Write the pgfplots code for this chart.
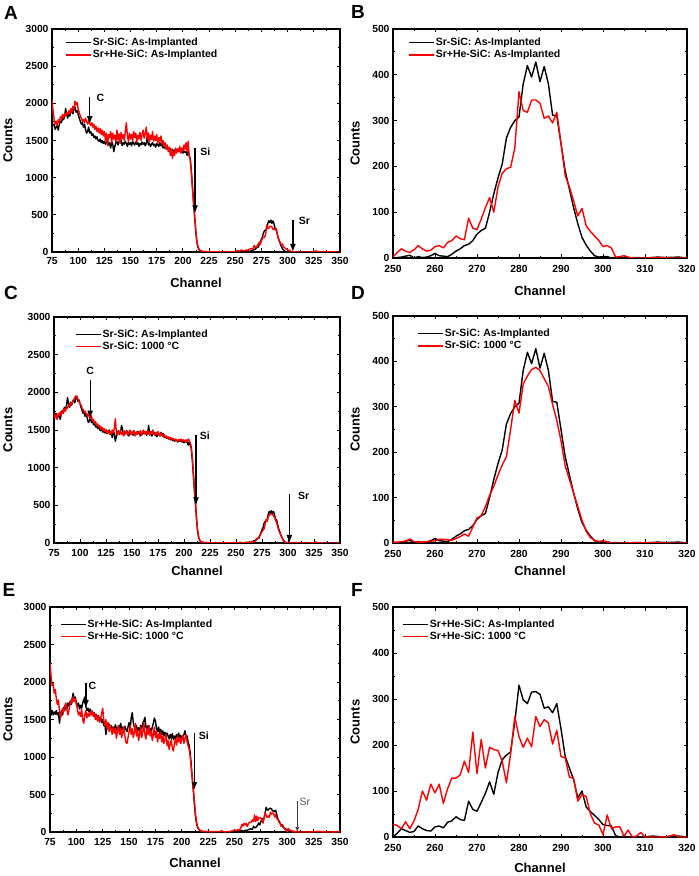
\documentclass[border=0pt]{standalone}
\usepackage{fontspec}
\setmainfont{Liberation Sans}
\usepackage{pgfplots}
\usepackage{pgfplotstable}
\pgfplotsset{compat=1.18}
\usetikzlibrary{arrows.meta}

% ---------- Row 1 / Row 2 : Sr-SiC As-Implanted ----------
\pgfplotstableread[row sep=\\]{x y\\
75 1750\\76 1700\\77 1720\\78 1650\\79 1680\\80 1700\\81 1640\\82 1720\\83 1760\\84 1740\\85 1800\\86 1780\\87 1820\\88 1930\\89 1850\\90 1800\\91 1870\\92 1830\\93 1880\\94 1900\\95 1860\\96 1920\\97 1950\\98 1880\\99 1900\\100 1850\\101 1800\\102 1760\\103 1720\\104 1740\\105 1680\\106 1720\\107 1650\\108 1600\\109 1620\\110 1680\\111 1600\\112 1620\\113 1570\\114 1590\\115 1540\\116 1560\\117 1520\\118 1550\\119 1500\\120 1490\\121 1520\\122 1470\\123 1500\\124 1460\\125 1490\\126 1450\\127 1480\\128 1500\\129 1440\\130 1470\\131 1400\\132 1480\\133 1450\\134 1350\\135 1420\\136 1470\\137 1490\\138 1440\\139 1480\\140 1560\\141 1500\\142 1430\\143 1470\\144 1450\\145 1490\\146 1460\\147 1420\\148 1480\\149 1450\\150 1470\\151 1430\\152 1490\\153 1460\\154 1440\\155 1480\\156 1450\\157 1470\\158 1420\\159 1460\\160 1440\\161 1480\\162 1450\\163 1470\\164 1430\\165 1460\\166 1560\\167 1440\\168 1460\\169 1420\\170 1450\\171 1470\\172 1430\\173 1450\\174 1410\\175 1460\\176 1440\\177 1420\\178 1470\\179 1430\\180 1450\\181 1400\\182 1420\\183 1390\\184 1410\\185 1380\\186 1400\\187 1370\\188 1390\\189 1360\\190 1380\\191 1350\\192 1370\\193 1360\\194 1340\\195 1370\\196 1350\\197 1360\\198 1340\\199 1350\\200 1330\\201 1360\\202 1340\\203 1350\\204 1300\\205 1340\\206 1300\\207 1250\\208 1100\\209 900\\210 700\\211 520\\212 330\\213 170\\214 80\\215 40\\216 20\\218 10\\220 5\\225 3\\230 0\\240 2\\249 0\\
}\SrAIfull

\pgfplotstableread[row sep=\\]{x y\\
250 0\\251 1\\252 2\\253 4\\254 6\\255 0\\256 3\\257 1\\258 2\\259 5\\260 10\\261 5\\262 4\\263 3\\264 8\\265 15\\266 20\\267 27\\268 30\\269 38\\270 52\\271 60\\272 65\\273 100\\274 140\\275 175\\276 205\\277 262\\278 285\\279 300\\280 308\\281 380\\282 420\\283 395\\284 428\\285 385\\286 418\\287 380\\288 312\\289 310\\290 250\\291 190\\292 150\\293 110\\294 75\\295 45\\296 28\\297 15\\298 5\\299 2\\300 3\\301 3\\302 0\\303 1\\305 0\\308 1\\310 0\\313 2\\315 1\\318 2\\320 0\\323 0\\327 3\\330 0\\340 1\\350 0\\
}\SrAIpeak

% ---------- Row 1 : Sr+He-SiC As-Implanted ----------
\pgfplotstableread[row sep=\\]{x y\\
75 2050\\76 1900\\77 1780\\78 1720\\79 1760\\80 1700\\81 1780\\82 1740\\83 1820\\84 1790\\85 1850\\86 1800\\87 1860\\88 1830\\89 1880\\90 1850\\91 1900\\92 1860\\93 1930\\94 1880\\95 1960\\96 1920\\97 2030\\98 1980\\99 2010\\100 1920\\101 1880\\102 1830\\103 1800\\104 1760\\105 1780\\106 1740\\107 1800\\108 1760\\109 1720\\110 1770\\111 1730\\112 1700\\113 1740\\114 1680\\115 1720\\116 1650\\117 1690\\118 1620\\119 1670\\120 1600\\121 1660\\122 1580\\123 1640\\124 1560\\125 1620\\126 1500\\127 1600\\128 1430\\129 1580\\130 1540\\131 1620\\132 1470\\133 1600\\134 1520\\135 1570\\136 1480\\137 1640\\138 1510\\139 1590\\140 1460\\141 1610\\142 1530\\143 1580\\144 1500\\145 1620\\146 1740\\147 1560\\148 1490\\149 1600\\150 1520\\151 1580\\152 1490\\153 1620\\154 1540\\155 1600\\156 1480\\157 1570\\158 1520\\159 1610\\160 1500\\161 1580\\162 1640\\163 1530\\164 1590\\165 1680\\166 1520\\167 1600\\168 1480\\169 1570\\170 1510\\171 1620\\172 1490\\173 1560\\174 1500\\175 1580\\176 1460\\177 1540\\178 1490\\179 1560\\180 1450\\181 1500\\182 1420\\183 1470\\184 1390\\185 1440\\186 1350\\187 1410\\188 1300\\189 1380\\190 1260\\191 1350\\192 1300\\193 1400\\194 1330\\195 1390\\196 1350\\197 1420\\198 1330\\199 1400\\200 1360\\201 1440\\202 1380\\203 1470\\204 1350\\205 1490\\206 1300\\207 1240\\208 1080\\209 880\\210 690\\211 520\\212 340\\213 190\\214 100\\215 50\\216 25\\218 12\\220 6\\225 3\\230 2\\240 0\\249 3\\
}\SrHeAIfullA

\pgfplotstableread[row sep=\\]{x y\\
250 2\\251 12\\252 20\\253 15\\254 12\\255 18\\256 27\\257 20\\258 15\\259 17\\260 25\\261 27\\262 22\\263 34\\264 38\\265 48\\266 42\\267 40\\268 87\\269 65\\270 62\\271 85\\272 110\\273 132\\274 100\\275 155\\276 185\\277 195\\278 198\\279 240\\280 363\\281 322\\282 318\\283 345\\284 345\\285 338\\286 305\\287 310\\288 295\\289 318\\290 250\\291 180\\292 155\\293 125\\294 92\\295 108\\296 70\\297 58\\298 48\\299 38\\300 25\\301 27\\302 22\\303 2\\304 3\\305 5\\306 2\\307 0\\310 0\\313 1\\316 0\\320 0\\324 2\\327 15\\329 3\\333 0\\340 2\\350 0\\
}\SrHeAIpeakB

% ---------- Row 2 : Sr-SiC 1000 C ----------
\pgfplotstableread[row sep=\\]{x y\\
75 1720\\76 1660\\77 1700\\78 1640\\79 1720\\80 1690\\81 1740\\82 1700\\83 1760\\84 1720\\85 1780\\86 1750\\87 1800\\88 1790\\89 1830\\90 1810\\91 1860\\92 1840\\93 1880\\94 1900\\95 1930\\96 1950\\97 1940\\98 1910\\99 1880\\100 1850\\101 1830\\102 1790\\103 1770\\104 1730\\105 1750\\106 1710\\107 1690\\108 1720\\109 1670\\110 1650\\111 1690\\112 1620\\113 1640\\114 1590\\115 1610\\116 1560\\117 1580\\118 1540\\119 1560\\120 1510\\121 1540\\122 1490\\123 1520\\124 1480\\125 1510\\126 1460\\127 1490\\128 1450\\129 1480\\130 1440\\131 1500\\132 1460\\133 1520\\134 1650\\135 1460\\136 1430\\137 1480\\138 1450\\139 1500\\140 1440\\141 1470\\142 1420\\143 1490\\144 1450\\145 1480\\146 1430\\147 1470\\148 1500\\149 1440\\150 1480\\151 1450\\152 1490\\153 1420\\154 1470\\155 1440\\156 1480\\157 1450\\158 1490\\159 1430\\160 1470\\161 1500\\162 1450\\163 1480\\164 1440\\165 1490\\166 1460\\167 1430\\168 1480\\169 1450\\170 1500\\171 1460\\172 1430\\173 1470\\174 1440\\175 1480\\176 1450\\177 1420\\178 1460\\179 1430\\180 1410\\181 1440\\182 1400\\183 1420\\184 1390\\185 1410\\186 1380\\187 1400\\188 1370\\189 1390\\190 1380\\191 1360\\192 1380\\193 1370\\194 1350\\195 1370\\196 1360\\197 1380\\198 1350\\199 1370\\200 1360\\201 1340\\202 1370\\203 1350\\204 1380\\205 1360\\206 1330\\207 1280\\208 1140\\209 940\\210 730\\211 540\\212 340\\213 180\\214 85\\215 40\\216 20\\218 10\\220 5\\225 3\\230 0\\240 2\\249 2\\
}\SrKfull

\pgfplotstableread[row sep=\\]{x y\\
250 2\\251 2\\252 3\\253 4\\254 9\\255 3\\256 2\\257 2\\258 3\\259 4\\260 5\\261 8\\262 8\\263 7\\264 6\\265 10\\266 14\\267 20\\268 15\\269 35\\270 55\\271 60\\272 80\\273 105\\274 125\\275 150\\276 172\\277 190\\278 250\\279 314\\280 286\\281 350\\282 368\\283 382\\284 387\\285 380\\286 362\\287 345\\288 305\\289 270\\290 225\\291 170\\292 140\\293 110\\294 80\\295 50\\296 26\\297 12\\298 6\\299 3\\300 5\\301 2\\302 0\\305 0\\310 1\\315 0\\320 0\\324 2\\327 12\\329 2\\335 0\\350 0\\
}\SrKpeak

% ---------- Row 3 : Sr+He-SiC As-Implanted ----------
\pgfplotstableread[row sep=\\]{x y\\
75 1750\\76 1560\\77 1620\\78 1560\\79 1600\\80 1570\\81 1620\\82 1560\\83 1590\\84 1450\\85 1580\\86 1620\\87 1560\\88 1660\\89 1620\\90 1700\\91 1640\\92 1720\\93 1680\\94 1740\\95 1700\\96 1780\\97 1850\\98 1760\\99 1800\\100 1720\\101 1680\\102 1720\\103 1640\\104 1690\\105 1650\\106 1720\\107 1760\\108 1800\\109 1680\\110 1620\\111 1650\\112 1600\\113 1640\\114 1580\\115 1600\\116 1560\\117 1590\\118 1540\\119 1570\\120 1520\\121 1550\\122 1480\\123 1530\\124 1460\\125 1500\\126 1420\\127 1450\\128 1300\\129 1400\\130 1380\\131 1440\\132 1370\\133 1420\\134 1350\\135 1400\\136 1360\\137 1430\\138 1380\\139 1350\\140 1420\\141 1380\\142 1450\\143 1360\\144 1400\\145 1330\\146 1410\\147 1370\\148 1340\\149 1400\\150 1460\\151 1380\\152 1520\\153 1590\\154 1450\\155 1400\\156 1360\\157 1420\\158 1340\\159 1390\\160 1350\\161 1420\\162 1380\\163 1450\\164 1480\\165 1530\\166 1400\\167 1360\\168 1420\\169 1340\\170 1380\\171 1330\\172 1400\\173 1450\\174 1520\\175 1480\\176 1380\\177 1340\\178 1400\\179 1320\\180 1370\\181 1300\\182 1350\\183 1280\\184 1330\\185 1260\\186 1320\\187 1280\\188 1240\\189 1300\\190 1250\\191 1310\\192 1230\\193 1280\\194 1240\\195 1300\\196 1260\\197 1320\\198 1250\\199 1290\\200 1240\\201 1280\\202 1300\\203 1350\\204 1260\\205 1280\\206 1200\\207 1150\\208 1050\\209 880\\210 700\\211 540\\212 360\\213 200\\214 110\\215 60\\216 35\\217 20\\218 12\\220 8\\222 5\\225 3\\230 2\\235 0\\240 3\\245 0\\249 2\\
}\SrHeAIfullE

\pgfplotstableread[row sep=\\]{x y\\
250 0\\251 8\\252 18\\253 14\\254 10\\255 12\\256 24\\257 18\\258 14\\259 13\\260 22\\261 24\\262 20\\263 32\\264 35\\265 44\\266 38\\267 36\\268 78\\269 60\\270 56\\271 75\\272 95\\273 120\\274 93\\275 140\\276 168\\277 178\\278 185\\279 250\\280 330\\281 298\\282 290\\283 315\\284 316\\285 310\\286 280\\287 283\\288 270\\289 290\\290 235\\291 175\\292 150\\293 125\\294 85\\295 100\\296 65\\297 55\\298 47\\299 38\\300 27\\301 25\\302 24\\303 3\\304 0\\305 2\\306 0\\309 0\\312 2\\314 0\\318 2\\320 0\\325 0\\330 2\\340 0\\350 0\\
}\SrHeAIpeakF

% ---------- Row 3 : Sr+He-SiC 1000 C ----------
\pgfplotstableread[row sep=\\]{x y\\
75 2250\\76 2080\\77 1950\\78 1980\\79 1850\\80 1900\\81 1780\\82 1700\\83 1760\\84 1620\\85 1520\\86 1580\\87 1650\\88 1600\\89 1680\\90 1720\\91 1640\\92 1560\\93 1620\\94 1700\\95 1760\\96 1720\\97 1800\\98 1740\\99 1780\\100 1700\\101 1640\\102 1560\\103 1600\\104 1540\\105 1640\\106 1500\\107 1450\\108 1560\\109 1620\\110 1520\\111 1580\\112 1540\\113 1600\\114 1560\\115 1620\\116 1540\\117 1580\\118 1500\\119 1560\\120 1480\\121 1540\\122 1460\\123 1520\\124 1580\\125 1650\\126 1480\\127 1420\\128 1500\\129 1380\\130 1460\\131 1340\\132 1420\\133 1360\\134 1300\\135 1400\\136 1320\\137 1380\\138 1250\\139 1340\\140 1420\\141 1300\\142 1380\\143 1260\\144 1330\\145 1400\\146 1280\\147 1200\\148 1180\\149 1260\\150 1340\\151 1420\\152 1300\\153 1380\\154 1260\\155 1320\\156 1450\\157 1280\\158 1360\\159 1220\\160 1300\\161 1400\\162 1260\\163 1340\\164 1460\\165 1300\\166 1240\\167 1380\\168 1300\\169 1420\\170 1280\\171 1350\\172 1220\\173 1300\\174 1400\\175 1260\\176 1340\\177 1200\\178 1310\\179 1250\\180 1330\\181 1200\\182 1280\\183 1180\\184 1240\\185 1300\\186 1150\\187 1220\\188 1100\\189 1180\\190 1230\\191 1120\\192 1080\\193 1180\\194 1240\\195 1160\\196 1280\\197 1200\\198 1260\\199 1180\\200 1240\\201 1290\\202 1180\\203 1250\\204 1300\\205 1200\\206 1150\\207 1100\\208 1000\\209 850\\210 700\\211 560\\212 400\\213 240\\214 130\\215 70\\216 40\\217 25\\218 15\\220 10\\222 5\\225 8\\228 2\\230 5\\235 3\\238 15\\240 2\\245 5\\249 20\\
}\SrHeKfull

\pgfplotstableread[row sep=\\]{x y\\
250 28\\251 25\\252 18\\253 33\\254 18\\255 35\\256 60\\257 100\\258 80\\259 115\\260 96\\261 115\\262 73\\263 105\\264 128\\265 128\\266 135\\267 165\\268 140\\269 228\\270 138\\271 212\\272 150\\273 195\\274 190\\275 188\\276 165\\277 118\\278 180\\279 262\\280 218\\281 195\\282 215\\283 196\\284 262\\285 240\\286 255\\287 248\\288 202\\289 232\\290 175\\291 172\\292 130\\293 128\\294 78\\295 92\\296 88\\297 50\\298 30\\299 26\\300 5\\301 48\\302 18\\303 22\\304 22\\305 2\\306 15\\307 0\\308 2\\309 10\\310 0\\312 0\\315 0\\317 5\\318 0\\320 0\\325 3\\330 10\\333 2\\340 0\\350 3\\
}\SrHeKpeak

\pgfplotstablevertcat{\SrAIfull}{\SrAIpeak}
\pgfplotstablevertcat{\SrHeAIfullA}{\SrHeAIpeakB}
\pgfplotstablevertcat{\SrKfull}{\SrKpeak}
\pgfplotstablevertcat{\SrHeAIfullE}{\SrHeAIpeakF}
\pgfplotstablevertcat{\SrHeKfull}{\SrHeKpeak}

\pgfplotsset{
  rbs/.style={
    scale only axis,
    axis line style={line width=1.3pt},
    tick align=inside,
    major tick length=3.5pt,
    minor tick length=2pt,
    minor x tick num=1,
    minor y tick num=1,
    every tick/.style={black, line width=0.9pt},
    ticklabel style={font=\bfseries\fontsize{10.3}{12}\selectfont},
    /pgf/number format/assume math mode=true,
    /pgf/number format/1000 sep={},
    label style={font=\bfseries\fontsize{13}{15}\selectfont},
    legend style={draw=none, fill=none, inner sep=0pt, row sep=0.8pt,
      font=\bfseries\fontsize{10.5}{12}\selectfont, nodes={inner sep=1.2pt}},
    legend cell align=left,
    legend image code/.code={\draw[##1] (0pt,0pt) -- (25pt,0pt);},
    every axis plot/.append style={line width=1.4pt, line join=round},
    xlabel={Channel}, ylabel={Counts},
  },
  full/.style={rbs, xmin=75, xmax=350, ymin=0, ymax=3000,
    xtick={75,100,...,350}, ytick={0,500,...,3000}},
  peak/.style={rbs, xmin=250, xmax=320, ymin=0, ymax=500,
    xtick={250,260,...,320}, ytick={0,100,...,500},
    xticklabel style={yshift=-4pt}},
}
\tikzset{
  ann/.style={-{Latex[length=8pt,width=6pt]}, line width=1.3pt, black},
  annt/.style={font=\bfseries\fontsize{10.5}{12}\selectfont, inner sep=1pt},
  plab/.style={font=\bfseries\fontsize{19}{22}\selectfont, inner sep=0pt},
}

\begin{document}
\begin{tikzpicture}
\useasboundingbox (0,0) rectangle (699pt,876pt);

% ---------------- A ----------------
\begin{axis}[full, at={(52pt,624pt)}, anchor=south west, width=288pt, height=223pt,
  xticklabel style={yshift=-1.5pt},
  xlabel style={at={(axis description cs:0.5,-0.139)}, anchor=center},
  ylabel style={at={(axis description cs:-0.153,0.5)}, anchor=center},
  legend style={at={(0.045,0.966)}, anchor=north west}]
\addplot[black] table[x=x,y=y]{\SrAIfull}; \addlegendentry{Sr-SiC: As-Implanted}
\addplot[red] table[x=x,y=y]{\SrHeAIfullA}; \addlegendentry{Sr+He-SiC: As-Implanted}
\draw[ann] (axis cs:111,2090) -- (axis cs:111,1720);
\node[annt, anchor=west] at (axis cs:116.5,2070) {C};
\draw[ann] (axis cs:211.6,1400) -- (axis cs:211.6,520);
\node[annt, anchor=west] at (axis cs:215.5,1350) {Si};
\draw[ann] (axis cs:305,430) -- (axis cs:305,0);
\node[annt, anchor=west] at (axis cs:309.5,420) {Sr};
\end{axis}

% ---------------- B ----------------
\begin{axis}[peak, at={(393pt,618pt)}, anchor=south west, width=294pt, height=229pt,
  xlabel style={at={(axis description cs:0.5,-0.144)}, anchor=center},
  ylabel style={at={(axis description cs:-0.129,0.5)}, anchor=center},
  legend style={at={(0.051,0.967)}, anchor=north west}]
\addplot[black] table[x=x,y=y]{\SrAIpeak}; \addlegendentry{Sr-SiC: As-Implanted}
\addplot[red] table[x=x,y=y]{\SrHeAIpeakB}; \addlegendentry{Sr+He-SiC: As-Implanted}
\end{axis}

% ---------------- C ----------------
\begin{axis}[full, at={(54pt,333pt)}, anchor=south west, width=286pt, height=226pt,
  xticklabel style={yshift=-3pt},
  xlabel style={at={(axis description cs:0.5,-0.124)}, anchor=center},
  ylabel style={at={(axis description cs:-0.161,0.5)}, anchor=center},
  legend style={at={(0.073,0.949)}, anchor=north west}]
\addplot[black] table[x=x,y=y]{\SrAIfull}; \addlegendentry{Sr-SiC: As-Implanted}
\addplot[red] table[x=x,y=y]{\SrKfull}; \addlegendentry{Sr-SiC: 1000 °C}
\node[annt] at (axis cs:109.8,2290) {C};
\draw[ann] (axis cs:109.8,2160) -- (axis cs:109.8,1650);
\draw[ann] (axis cs:211.5,1430) -- (axis cs:211.5,500);
\node[annt, anchor=west] at (axis cs:214,1420) {Si};
\draw[ann] (axis cs:301.3,650) -- (axis cs:301.3,0);
\node[annt, anchor=west] at (axis cs:308.5,625) {Sr};
\end{axis}

% ---------------- D ----------------
\begin{axis}[peak, at={(393pt,333pt)}, anchor=south west, width=294pt, height=227pt,
  xlabel style={at={(axis description cs:0.5,-0.123)}, anchor=center},
  ylabel style={at={(axis description cs:-0.129,0.5)}, anchor=center},
  legend style={at={(0.082,0.949)}, anchor=north west}]
\addplot[black] table[x=x,y=y]{\SrAIpeak}; \addlegendentry{Sr-SiC: As-Implanted}
\addplot[red] table[x=x,y=y]{\SrKpeak}; \addlegendentry{Sr-SiC: 1000 °C}
\end{axis}

% ---------------- E ----------------
\begin{axis}[full, at={(50pt,44pt)}, anchor=south west, width=290pt, height=225pt,
  xticklabel style={yshift=-3pt},
  xlabel style={at={(axis description cs:0.5,-0.138)}, anchor=center},
  ylabel style={at={(axis description cs:-0.145,0.5)}, anchor=center},
  legend style={at={(0.034,0.949)}, anchor=north west}]
\addplot[black] table[x=x,y=y]{\SrHeAIfullE}; \addlegendentry{Sr+He-SiC: As-Implanted}
\addplot[red] table[x=x,y=y]{\SrHeKfull}; \addlegendentry{Sr+He-SiC: 1000 °C}
\draw[ann] (axis cs:109,1990) -- (axis cs:109,1650);
\node[annt, anchor=west] at (axis cs:110.5,1950) {C};
\draw[ann] (axis cs:211.9,1320) -- (axis cs:211.9,560);
\node[annt, anchor=west] at (axis cs:215,1290) {Si};
\draw[-{Latex[length=5pt,width=4pt]}, line width=0.7pt, black!75] (axis cs:309.5,410) -- (axis cs:309.5,0);
\node[font=\fontsize{10.5}{12}\selectfont, text=black!65, inner sep=1pt, anchor=west] at (axis cs:310.5,400) {Sr};
\end{axis}

% ---------------- F ----------------
\begin{axis}[peak, at={(393pt,39pt)}, anchor=south west, width=294pt, height=230pt,
  xlabel style={at={(axis description cs:0.5,-0.135)}, anchor=center},
  ylabel style={at={(axis description cs:-0.129,0.5)}, anchor=center},
  legend style={at={(0.031,0.95)}, anchor=north west}]
\addplot[black] table[x=x,y=y]{\SrHeAIpeakF}; \addlegendentry{Sr+He-SiC: As-Implanted}
\addplot[red] table[x=x,y=y]{\SrHeKpeak}; \addlegendentry{Sr+He-SiC: 1000 °C}
\end{axis}

% panel letters
\node[plab] at (11pt,863pt) {A};
\node[plab] at (358pt,864pt) {B};
\node[plab] at (11pt,583pt) {C};
\node[plab] at (358pt,583pt) {D};
\node[plab] at (9pt,286pt) {E};
\node[plab] at (357pt,286pt) {F};
\end{tikzpicture}
\end{document}
